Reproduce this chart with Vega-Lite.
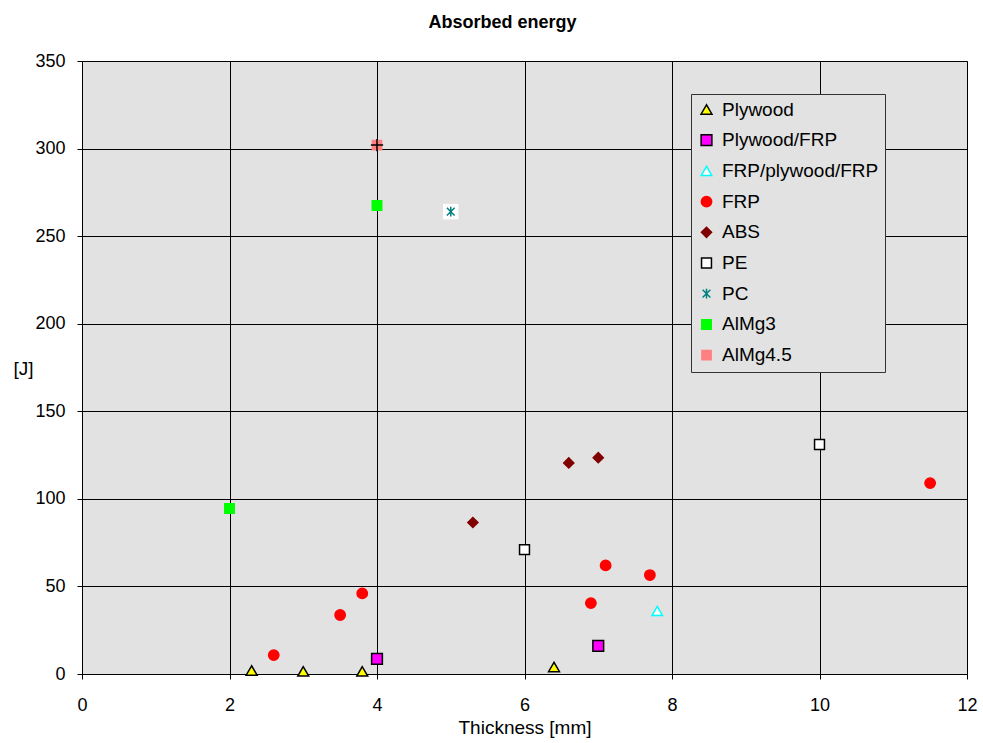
{
  "$schema": "https://vega.github.io/schema/vega-lite/v6.json",
  "autosize": {"type": "none"},
  "width": 885,
  "height": 613,
  "padding": {"left": 82, "top": 61, "right": 16, "bottom": 69},
  "background": "#ffffff",
  "title": {"text": "Absorbed energy", "fontSize": 18, "fontWeight": "bold", "font": "Liberation Sans", "color": "#000000", "anchor": "middle", "offset": 20, "dx": -22},
  "config": {
    "font": "Liberation Sans",
    "view": {"fill": "#e2e2e2", "stroke": "#808080", "strokeWidth": 1},
    "axis": {
      "labelFont": "Liberation Sans", "labelFontSize": 18, "labelColor": "#000000",
      "titleFont": "Liberation Sans", "titleFontSize": 19, "titleFontWeight": "normal", "titleColor": "#000000",
      "domainColor": "#000000", "tickColor": "#000000", "tickSize": 5,
      "gridColor": "#000000", "gridOpacity": 1, "gridWidth": 1, "labelFlush": false
    },
    "legend": {
      "orient": "none", "legendX": 609, "legendY": 33,
      "fillColor": "#e2e2e2", "strokeColor": "#333333", "strokeWidth": 1,
      "padding": 6, "labelFont": "Liberation Sans", "labelFontSize": 19, "labelColor": "#000000",
      "labelOffset": 6, "rowPadding": 10.7, "symbolStrokeWidth": 1.5, "title": null
    }
  },
  "data": {"values": [
    {"series": "Plywood", "t": 2.3, "e": 2},
    {"series": "Plywood", "t": 3.0, "e": 1.5},
    {"series": "Plywood", "t": 3.8, "e": 1.5},
    {"series": "Plywood", "t": 6.4, "e": 4},
    {"series": "Plywood/FRP", "t": 4.0, "e": 8.6},
    {"series": "Plywood/FRP", "t": 7.0, "e": 16},
    {"series": "FRP/plywood/FRP", "t": 7.8, "e": 36},
    {"series": "FRP", "t": 2.6, "e": 10.8},
    {"series": "FRP", "t": 3.5, "e": 33.7},
    {"series": "FRP", "t": 3.8, "e": 46},
    {"series": "FRP", "t": 6.9, "e": 40.5},
    {"series": "FRP", "t": 7.1, "e": 62},
    {"series": "FRP", "t": 7.7, "e": 56.5},
    {"series": "FRP", "t": 11.5, "e": 109},
    {"series": "ABS", "t": 5.3, "e": 86.5},
    {"series": "ABS", "t": 6.6, "e": 120.5},
    {"series": "ABS", "t": 7.0, "e": 123.5},
    {"series": "PE", "t": 6.0, "e": 71},
    {"series": "PE", "t": 10.0, "e": 131},
    {"series": "PC", "t": 5.0, "e": 264},
    {"series": "AlMg3", "t": 2.0, "e": 94.5},
    {"series": "AlMg3", "t": 4.0, "e": 267.5},
    {"series": "AlMg4.5", "t": 4.0, "e": 302}
  ]},
  "encoding": {
    "x": {"field": "t", "type": "quantitative", "title": "Thickness [mm]",
      "scale": {"domain": [0, 12], "nice": false},
      "axis": {"values": [0, 2, 4, 6, 8, 10, 12], "labelPadding": 17, "titlePadding": 4, "grid": true}},
    "y": {"field": "e", "type": "quantitative", "title": "[J]",
      "scale": {"domain": [0, 350], "nice": false},
      "axis": {"values": [0, 50, 100, 150, 200, 250, 300, 350], "labelPadding": 12, "grid": true,
        "titleAngle": 0, "titleAlign": "center", "titleBaseline": "middle", "titleX": -59, "titleY": 307}}
  },
  "layer": [
    {
      "transform": [{"filter": "datum.series === 'PC'"}],
      "mark": {"type": "point", "shape": "square", "filled": true, "fill": "#ffffff", "strokeWidth": 0, "size": 240, "opacity": 1}
    },
    {
      "mark": {"type": "point", "strokeWidth": 1.5, "opacity": 1, "fillOpacity": 1},
      "encoding": {
        "shape": {"field": "series", "type": "nominal",
          "scale": {"domain": ["Plywood", "Plywood/FRP", "FRP/plywood/FRP", "FRP", "ABS", "PE", "PC", "AlMg3", "AlMg4.5"],
            "range": ["triangle-up", "square", "triangle-up", "circle", "diamond", "square", "M-0.8,-0.8L0.8,0.8M0.8,-0.8L-0.8,0.8M0,-1L0,1", "square", "square"]}},
        "fill": {"field": "series", "type": "nominal",
          "scale": {"domain": ["Plywood", "Plywood/FRP", "FRP/plywood/FRP", "FRP", "ABS", "PE", "PC", "AlMg3", "AlMg4.5"],
            "range": ["#ffff00", "#ff00ff", "#ffffff", "#ff0000", "#800000", "#ffffff", "transparent", "#00ff00", "#ff8080"]}},
        "stroke": {"field": "series", "type": "nominal",
          "scale": {"domain": ["Plywood", "Plywood/FRP", "FRP/plywood/FRP", "FRP", "ABS", "PE", "PC", "AlMg3", "AlMg4.5"],
            "range": ["#000000", "#000000", "#00ffff", "#ff0000", "#800000", "#000000", "#008080", "#00ff00", "#ff8080"]}},
        "size": {"field": "series", "type": "nominal",
          "scale": {"domain": ["Plywood", "Plywood/FRP", "FRP/plywood/FRP", "FRP", "ABS", "PE", "PC", "AlMg3", "AlMg4.5"],
            "range": [120, 85, 120, 100, 80, 85, 170, 230, 230]}}
      }
    },
    {
      "transform": [{"filter": "datum.series === 'AlMg4.5'"}],
      "mark": {"type": "point", "shape": "M-1,0L1,0M0,-1L0,1", "filled": false, "color": "#000000", "stroke": "#000000", "strokeWidth": 1.5, "size": 150, "opacity": 1}
    }
  ]
}
